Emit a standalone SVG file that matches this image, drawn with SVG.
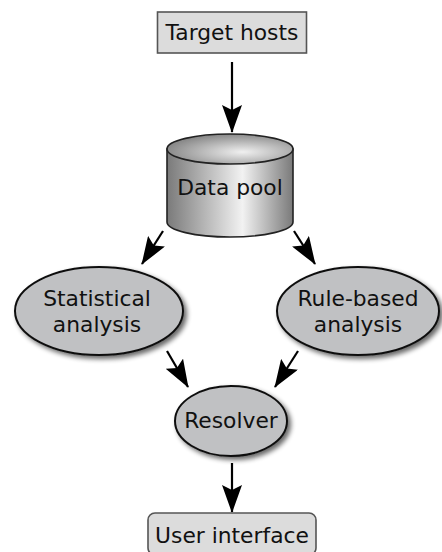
<svg xmlns="http://www.w3.org/2000/svg" width="442" height="552" viewBox="0 0 442 552">
<defs>
<style>
.lbl{font-family:"DejaVu Sans",sans-serif;font-size:21.8px;fill:#111;text-anchor:middle}
.box{fill:#dcdcdc;stroke:#555;stroke-width:1.6}
.ell{fill:#c0c1c3;stroke:#111;stroke-width:2}
.edge{stroke:#000;stroke-width:2.2;fill:none;marker-end:url(#ah)}
</style>
<marker id="ah" viewBox="0 0 28 20" refX="27" refY="10" markerWidth="28" markerHeight="20" markerUnits="userSpaceOnUse" orient="auto">
<path d="M0,0 L28,10 L0,20 L5,10 Z" fill="#000"/>
</marker>
<linearGradient id="cylg" x1="0" y1="0" x2="1" y2="0">
<stop offset="0" stop-color="#7a7a7a"/>
<stop offset="0.6" stop-color="#f2f2f2"/>
<stop offset="1" stop-color="#7a7a7a"/>
</linearGradient>
<radialGradient id="topg" cx="0.6" cy="0.6" r="0.6">
<stop offset="0" stop-color="#f0f0f0"/>
<stop offset="1" stop-color="#8a8a8a"/>
</radialGradient>
<filter id="sh" x="-20%" y="-20%" width="150%" height="150%">
<feGaussianBlur in="SourceAlpha" stdDeviation="2.5"/>
<feOffset dx="3" dy="3" result="b"/>
<feComponentTransfer><feFuncA type="linear" slope="0.6"/></feComponentTransfer>
<feMerge><feMergeNode/><feMergeNode in="SourceGraphic"/></feMerge>
</filter>
</defs>
<g id="connectors">
<line class="edge" x1="232" y1="62" x2="232" y2="132"/>
<line class="edge" x1="163" y1="231" x2="142" y2="264"/>
<line class="edge" x1="294" y1="231" x2="315" y2="264"/>
<line class="edge" x1="167" y1="351" x2="188" y2="387"/>
<line class="edge" x1="298" y1="351" x2="275" y2="387"/>
<line class="edge" x1="232" y1="463" x2="232" y2="512"/>
</g>
<g id="target-hosts">
<rect class="box" x="157.5" y="12" width="149" height="41"/>
<text class="lbl" x="232" y="40">Target hosts</text>
</g>
<g id="data-pool">
<path d="M167,149 L167,222 A63,15 0 0 0 293,222 L293,149 Z" fill="url(#cylg)" stroke="#222" stroke-width="1.6"/>
<ellipse cx="230" cy="149" rx="63" ry="15" fill="url(#topg)" stroke="#222" stroke-width="1.6"/>
<text class="lbl" x="230" y="195">Data pool</text>
</g>
<g id="statistical-analysis">
<ellipse class="ell" cx="99" cy="311" rx="84" ry="44" filter="url(#sh)"/>
<text class="lbl" x="97" y="306">Statistical</text>
<text class="lbl" x="97" y="332">analysis</text>
</g>
<g id="rule-based-analysis">
<ellipse class="ell" cx="358" cy="311" rx="81" ry="44" filter="url(#sh)"/>
<text class="lbl" x="358" y="306">Rule-based</text>
<text class="lbl" x="358" y="332">analysis</text>
</g>
<g id="resolver">
<ellipse class="ell" cx="231" cy="421" rx="56" ry="35" filter="url(#sh)"/>
<text class="lbl" x="231" y="428">Resolver</text>
</g>
<g id="user-interface">
<rect class="box" x="148" y="513" width="168" height="42" rx="7"/>
<text class="lbl" x="232" y="543">User interface</text>
</g>
</svg>
